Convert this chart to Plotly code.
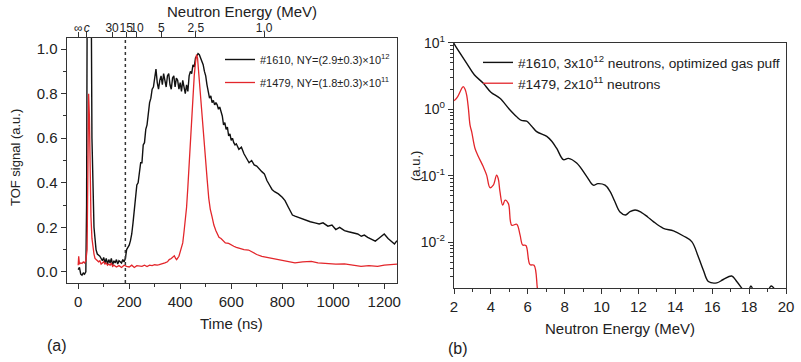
import plotly.graph_objects as go

# ---------------- (a) TOF signals ----------------
t_1610 = [0, 5, 10, 15, 20, 25, 30, 33, 36, 50, 54, 58, 62, 66, 70, 75, 80, 85, 90, 95, 100, 105, 110, 115,
          120, 125, 130, 135, 140, 145, 150, 155, 160, 165, 170, 175, 180, 185, 190, 195, 200, 205, 210,
          215, 220, 225, 230, 235, 240, 245, 250, 255, 260, 265, 270, 275, 280, 285, 290, 295, 300, 305,
          310, 315, 320, 325, 330, 335, 340, 345, 350, 355, 360, 365, 370, 375, 380, 385, 390, 395, 400,
          405, 410, 415, 420, 425, 430, 435, 440, 445, 450, 455, 460, 465, 470, 475, 480, 485, 490, 495,
          500, 505, 510, 515, 520, 525, 530, 535, 540, 545, 550, 555, 560, 565, 570, 575, 580, 585, 590,
          595, 600, 605, 610, 615, 620, 630, 640, 650, 660, 670, 680, 690, 700, 710, 720, 730, 740, 750,
          760, 770, 785, 800, 811, 824, 840, 850, 863, 880, 895, 910, 928, 945, 960, 979, 995, 1010, 1025,
          1044, 1060, 1075, 1096, 1110, 1122, 1135, 1150, 1165, 1178, 1187, 1200, 1215, 1226, 1240, 1250]
v_1610 = [0.01, 0.02, -0.01, -0.015, -0.005, -0.01, 0.0, 0.3, 1.5, 1.5, 0.6, 0.3, 0.2, 0.15, 0.1, 0.08,
          0.075, 0.07, 0.06, 0.05, 0.065, 0.04, 0.06, 0.035, 0.055, 0.04, 0.06, 0.03, 0.05, 0.04, 0.055,
          0.035, 0.05, 0.045, 0.04, 0.055, 0.045, 0.06, 0.1, 0.11, 0.12, 0.14, 0.17, 0.22, 0.28, 0.35,
          0.39, 0.40, 0.46, 0.49, 0.49, 0.57, 0.58, 0.64, 0.66, 0.72, 0.76, 0.78, 0.82, 0.83, 0.87, 0.91,
          0.85, 0.82, 0.86, 0.88, 0.84, 0.89, 0.86, 0.83, 0.88, 0.89, 0.84, 0.82, 0.87, 0.88, 0.83, 0.87,
          0.86, 0.82, 0.85, 0.81, 0.86, 0.82, 0.80, 0.84, 0.81, 0.88, 0.90, 0.89, 0.93, 0.92, 0.96, 0.97,
          0.98, 0.975, 0.96, 0.95, 0.93, 0.90, 0.88, 0.84, 0.80, 0.78, 0.79, 0.76, 0.77, 0.75, 0.76, 0.75,
          0.73, 0.74, 0.72, 0.70, 0.66, 0.67, 0.64, 0.65, 0.61, 0.62, 0.59, 0.60, 0.58, 0.57, 0.575, 0.55,
          0.56, 0.53, 0.51, 0.49, 0.50, 0.48, 0.475, 0.46, 0.45, 0.44, 0.41, 0.39, 0.37, 0.36, 0.35, 0.335,
          0.32, 0.29, 0.255, 0.25, 0.245, 0.235, 0.23, 0.225, 0.22, 0.215, 0.22, 0.205, 0.21, 0.19, 0.20,
          0.185, 0.18, 0.175, 0.17, 0.16, 0.165, 0.155, 0.145, 0.138, 0.15, 0.16, 0.17, 0.15, 0.14, 0.125,
          0.14, 0.13]

t_1479 = [0, 2, 5, 10, 15, 20, 25, 30, 35, 38, 41, 44, 47, 50, 54, 58, 62, 66, 70, 75, 80, 85, 90, 95, 100,
          105, 110, 115, 120, 125, 130, 135, 140, 150, 160, 170, 180, 190, 200, 210, 220, 230, 240, 250,
          260, 270, 280, 290, 300, 310, 318, 330, 340, 350, 357, 365, 372, 377, 382, 386, 395, 400, 405,
          410, 415, 420, 425, 430, 435, 440, 445, 450, 455, 460, 464, 468, 472, 478, 484, 490, 495, 500,
          506, 512, 518, 525, 532, 540, 545, 552, 560, 568, 577, 590, 600, 610, 620, 629, 640, 650, 668,
          690, 700, 720, 740, 760, 785, 800, 820, 850, 880, 914, 940, 979, 1010, 1044, 1080, 1109, 1140,
          1174, 1200, 1226, 1250]
v_1479 = [0.03, 0.07, 0.035, 0.04, 0.038, 0.045, 0.04, 0.05, 0.1, 0.5, 0.80, 0.70, 0.45, 0.25, 0.15, 0.10,
          0.08, 0.06, 0.055, 0.05, 0.045, 0.05, 0.035, 0.04, 0.045, 0.035, 0.04, 0.03, 0.035, 0.03, 0.04,
          0.025, 0.03, 0.022, 0.028, 0.02, 0.03, 0.025, 0.022, 0.03, 0.02, 0.028, 0.025, 0.025, 0.03,
          0.024, 0.03, 0.028, 0.032, 0.03, 0.032, 0.035, 0.04, 0.045, 0.055, 0.06, 0.07, 0.072, 0.06,
          0.055, 0.07, 0.09, 0.11, 0.13, 0.18, 0.23, 0.29, 0.38, 0.48, 0.60, 0.72, 0.81, 0.88, 0.94, 0.975,
          0.96, 0.90, 0.82, 0.72, 0.64, 0.54, 0.47, 0.41, 0.33, 0.28, 0.247, 0.21, 0.185, 0.173, 0.155,
          0.15, 0.14, 0.13, 0.128, 0.12, 0.115, 0.11, 0.107, 0.10, 0.10, 0.098, 0.085, 0.078, 0.07, 0.065,
          0.06, 0.055, 0.05, 0.045, 0.04, 0.045, 0.047, 0.04, 0.036, 0.035, 0.036, 0.03, 0.025, 0.028,
          0.025, 0.03, 0.033, 0.035]

t_cut = 185  # dotted marker line (ns)

# top axis: neutron energy labels
energy_ticks = [30, 15, 10, 5, 2.5, 1.0]
energy_labels = ["30", "15", "10", "5", "2.5", "1.0"]
t_per_sqrtE = 729.0   # ns * sqrt(MeV)
t_gamma = 34.0        # ns, light arrival

# ---------------- (b) neutron energy spectra ----------------
E_1610 = [2.0, 2.05, 2.69, 3.1, 3.59, 4.0, 4.49, 5.0, 5.4, 5.65, 5.94, 6.2, 6.48, 7.03, 7.3, 7.57, 7.93,
          8.2, 8.65, 9.2, 9.55, 9.8, 10.19, 10.46, 10.7, 11.0, 11.3, 11.54, 11.82, 12.15, 12.5, 12.81,
          13.35, 13.9, 14.44, 14.89, 15.25, 15.52, 15.79, 16.25, 16.6, 17.06, 17.33, 17.6, 17.8, 17.95,
          18.1, 18.3, 18.6, 18.9, 19.2, 19.5]
A_1610 = [9.8, 9.2, 4.9, 3.3, 2.45, 1.8, 1.46, 1.0, 0.77, 0.68, 0.66, 0.56, 0.46, 0.39, 0.33, 0.257,
          0.174, 0.182, 0.155, 0.097, 0.072, 0.076, 0.072, 0.058, 0.042, 0.0284, 0.0257, 0.0288, 0.0305,
          0.0282, 0.024, 0.0204, 0.0162, 0.0148, 0.0124, 0.0102, 0.006, 0.0038, 0.00257, 0.00245,
          0.00275, 0.0031, 0.00257, 0.00204, 0.0017, 0.0018, 0.0022, 0.0017, 0.0015, 0.0016, 0.0022,
          0.0017]

E_1479 = [2.0, 2.05, 2.2, 2.42, 2.5, 2.6, 2.69, 2.78, 2.87, 2.96, 3.14, 3.32, 3.59, 3.77, 3.95, 4.13,
          4.31, 4.4, 4.49, 4.64, 4.77, 4.95, 5.13, 5.4, 5.58, 5.72, 5.9, 6.12, 6.34, 6.52, 6.6]
A_1479 = [1.35, 1.37, 1.55, 2.06, 2.19, 2.0, 1.62, 1.03, 0.575, 0.457, 0.257, 0.195, 0.136, 0.102, 0.066,
          0.072, 0.102, 0.09, 0.058, 0.036, 0.043, 0.038, 0.018, 0.0186, 0.0129, 0.0091, 0.0089, 0.0046,
          0.0045, 0.00204, 0.0015]

log_ticks = [0.01, 0.1, 1, 10]
log_labels = ["10<sup>-2</sup>", "10<sup>-1</sup>", "10<sup>0</sup>", "10<sup>1</sup>"]

FONT = "Liberation Sans, Arial, sans-serif"
BLACK = "#111111"
RED = "#e3262b"
TXT = "#222222"

top_vals = [0, t_gamma] + [t_per_sqrtE / e ** 0.5 for e in energy_ticks]
top_text = ["\u221e", "<i>c</i>"] + energy_labels

fig = go.Figure()

fig.add_trace(go.Scatter(x=t_1610, y=v_1610, mode="lines", line=dict(color=BLACK, width=1.4),
                         name="#1610, NY=(2.9\u00b10.3)\u00d710<sup>12</sup>", legend="legend",
                         legendgroup="a1", xaxis="x", yaxis="y"))
fig.add_trace(go.Scatter(x=t_1479, y=v_1479, mode="lines", line=dict(color=RED, width=1.3),
                         name="#1479, NY=(1.8\u00b10.3)\u00d710<sup>11</sup>", legend="legend",
                         legendgroup="a2", xaxis="x", yaxis="y"))
fig.add_trace(go.Scatter(x=[t_cut, t_cut], y=[-0.05, 1.05], mode="lines",
                         line=dict(color="#333333", width=1.5, dash="dot"), showlegend=False,
                         xaxis="x", yaxis="y"))
# invisible trace to anchor top axis
fig.add_trace(go.Scatter(x=[t_1610[0]], y=[v_1610[0]], mode="markers", marker=dict(opacity=0),
                         showlegend=False, hoverinfo="skip", xaxis="x2", yaxis="y"))

fig.add_trace(go.Scatter(x=E_1610, y=A_1610, mode="lines", line=dict(color=BLACK, width=1.4, shape="spline"),
                         name="#1610, 3x10<sup>12</sup> neutrons, optimized gas puff", legend="legend2",
                         xaxis="x3", yaxis="y3"))
fig.add_trace(go.Scatter(x=E_1479, y=A_1479, mode="lines", line=dict(color=RED, width=1.3, shape="spline"),
                         name="#1479, 2x10<sup>11</sup> neutrons", legend="legend2",
                         xaxis="x3", yaxis="y3"))

W, H = 801, 362
axcommon = dict(showline=True, linecolor="#333333", linewidth=1.3, mirror=True, showgrid=False,
                zeroline=False, ticks="outside", tickcolor="#333333", ticklen=5, automargin=False,
                tickfont=dict(family=FONT, size=15, color=TXT))

def ann(text, x, y, size, angle=0):
    return dict(text=text, x=x / W, y=1 - y / H, xref="paper", yref="paper", showarrow=False,
                xanchor="center", yanchor="middle", textangle=angle,
                font=dict(family=FONT, size=size, color=TXT))

fig.update_layout(
    width=W, height=H, margin=dict(l=0, r=0, t=0, b=0),
    paper_bgcolor="white", plot_bgcolor="white",
    font=dict(family=FONT, color=TXT),
    xaxis=dict(domain=[66.7 / W, 397 / W], range=[-45, 1250], dtick=200, tick0=0,
               minor=dict(ticks="outside", dtick=100, ticklen=3, tickcolor="#333333"),
               anchor="y", **axcommon),
    yaxis=dict(domain=[1 - 283 / H, 1 - 38 / H], range=[-0.05, 1.05], dtick=0.2, tickformat=".1f",
               minor=dict(ticks="outside", dtick=0.1, ticklen=3, tickcolor="#333333"),
               anchor="x", **axcommon),
    xaxis2=dict(overlaying="x", side="top", anchor="y", range=[-45, 1250], tickmode="array",
                tickvals=top_vals, ticktext=top_text, showgrid=False, zeroline=False, showline=False,
                ticks="outside", ticklen=5, tickcolor="#333333", tickangle=0, automargin=False,
                ticklabelstandoff=-5,
                tickfont=dict(family=FONT, size=12, color=TXT)),
    xaxis3=dict(domain=[454 / W, 786 / W], range=[2, 20], dtick=2,
                minor=dict(ticks="outside", dtick=1, ticklen=3, tickcolor="#333333"),
                anchor="y3", **axcommon),
    yaxis3=dict(domain=[1 - 288.3 / H, 1 - 42.7 / H], type="log", range=[-2.693, 1.0],
                tickmode="array", tickvals=log_ticks, ticktext=log_labels,
                minor=dict(ticks="outside", dtick="D1", ticklen=3, tickcolor="#333333"),
                anchor="x3", **{**axcommon, "tickfont": dict(family=FONT, size=14, color=TXT)}),
    legend=dict(x=220 / W, y=1 - 45 / H, xanchor="left", yanchor="top", bgcolor="rgba(0,0,0,0)",
                font=dict(family=FONT, size=11, color=TXT), tracegroupgap=4, itemwidth=30),
    legend2=dict(x=478 / W, y=1 - 47 / H, xanchor="left", yanchor="top", bgcolor="rgba(0,0,0,0)",
                 font=dict(family=FONT, size=13.7, color=TXT), tracegroupgap=0, itemwidth=30),
    annotations=[
        ann("Neutron Energy (MeV)", 241.7, 11.5, 15),
        ann("Time (ns)", 231.7, 323, 15),
        ann("TOF signal (a.u.)", 15, 158, 13, -90),
        ann("Neutron Energy (MeV)", 620, 328, 15),
        ann("(a.u.)", 415, 166, 13, -90),
        ann("(a)", 57, 345, 16),
        ann("(b)", 458, 348, 16),
    ],
)

fig.write_html("out.html", config={"displayModeBar": False},
               post_script="document.body.style.margin='0';document.body.style.overflow='hidden';")
